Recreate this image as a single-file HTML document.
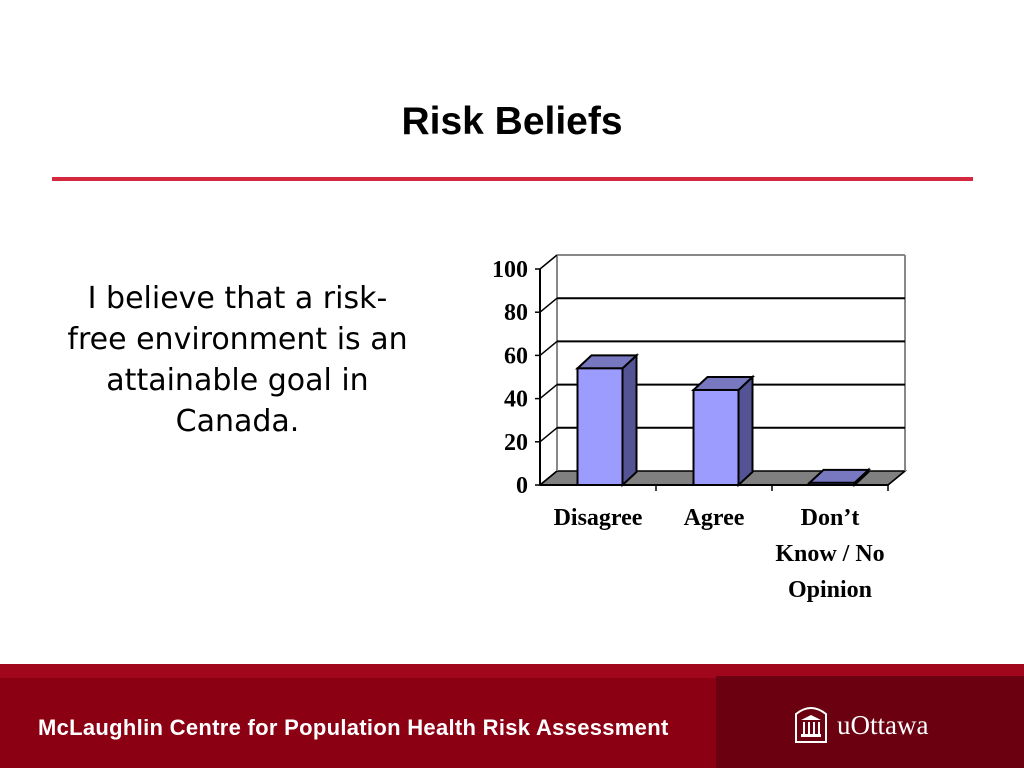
<!DOCTYPE html>
<html><head><meta charset="utf-8"><style>
body{margin:0;width:1024px;height:768px;overflow:hidden;background:#fff;font-family:"Liberation Sans",sans-serif;position:relative}
.abs{position:absolute}
</style></head><body>
<div class="abs" style="left:0;width:1024px;top:100px;text-align:center;font-weight:bold;font-size:39px;color:#000">Risk Beliefs</div>
<div class="abs" style="left:52px;top:177px;width:921px;height:4px;background:#d3283e"></div>
<div class="abs" style="left:20px;top:278px;width:435px;text-align:center;font-family:'Comic Sans MS','DejaVu Sans',sans-serif;font-size:30px;line-height:41px;color:#000">I believe that a risk-<br>free environment is an<br>attainable goal in<br>Canada.</div>
<svg class="abs" style="left:0;top:0" width="1024" height="768">
<g id="chart"></g>
</svg>
<div class="abs" style="left:0;top:664px;width:1024px;height:104px;background:#8c0014"></div>
<div class="abs" style="left:0;top:664px;width:1024px;height:14px;background:#a0061c"></div>
<div class="abs" style="left:716px;top:676px;width:308px;height:92px;background:#6b0010"></div>
<div class="abs" style="left:38px;top:715px;color:#fff;font-weight:bold;font-size:22px;letter-spacing:0.3px">McLaughlin Centre for Population Health Risk Assessment</div>
<div class="abs" style="left:793px;top:704px;width:160px;height:40px;color:#fff">
<svg width="36" height="40" class="abs" style="left:0;top:0"><path d="M3 38V10Q18 -2 33 10V38Z" fill="none" stroke="#fff" stroke-width="2"/><path d="M8 16L18 11L28 16Z" fill="#fff"/><rect x="8" y="30" width="20" height="3" fill="#fff"/><rect x="10" y="18" width="2" height="12" fill="#fff"/><rect x="15" y="18" width="2" height="12" fill="#fff"/><rect x="20" y="18" width="2" height="12" fill="#fff"/><rect x="25" y="18" width="2" height="12" fill="#fff"/></svg>
<span class="abs" style="left:44px;top:6px;font-family:'Liberation Serif',serif;font-size:27px">uOttawa</span></div>
<script>
const categories=["Disagree","Agree","Don’t\nKnow / No\nOpinion"];
const values=[54,44,1];
const yTicks=[0,20,40,60,80,100];
const NS="http://www.w3.org/2000/svg";
const g=document.getElementById('chart');
const X0=540,X1=888,Y0=485,PXU=2.16,DX=17,DY=-14;
const y=v=>Y0-v*PXU;
const band=(X1-X0)/categories.length;
function mk(t,a,p){const e=document.createElementNS(NS,t);for(const k in a)e.setAttribute(k,a[k]);(p||g).appendChild(e);return e;}
mk('polygon',{points:`${X0},${Y0} ${X0+DX},${Y0+DY} ${X1+DX},${Y0+DY} ${X1},${Y0}`,fill:'#808080',stroke:'#000','stroke-width':1.5});
mk('line',{x1:X0+DX,y1:y(100)+DY,x2:X0+DX,y2:Y0+DY,stroke:'#888','stroke-width':2});
mk('line',{x1:X1+DX,y1:y(100)+DY,x2:X1+DX,y2:Y0+DY,stroke:'#888','stroke-width':2});
mk('line',{x1:X0+DX,y1:y(100)+DY,x2:X1+DX,y2:y(100)+DY,stroke:'#888','stroke-width':2});
yTicks.forEach(t=>{
 if(t>0&&t<100){const l=mk('line',{x1:X0+DX,y1:y(t)+DY,x2:X1+DX,y2:y(t)+DY,stroke:'#000','stroke-width':2});}
 mk('line',{x1:X0,y1:y(t),x2:X0+DX,y2:y(t)+DY,stroke:'#000','stroke-width':1.5});
 mk('line',{x1:X0-5,y1:y(t),x2:X0,y2:y(t),stroke:'#000','stroke-width':1.5});
 const tx=mk('text',{x:X0-12,y:y(t)+8,'text-anchor':'end','font-family':'Liberation Serif','font-weight':'bold','font-size':24});
 tx.textContent=t;
 
 
});
mk('line',{x1:X0,y1:y(100),x2:X0,y2:Y0,stroke:'#000','stroke-width':2});
mk('line',{x1:X0,y1:Y0,x2:X1,y2:Y0,stroke:'#000','stroke-width':2});
mk('line',{x1:X1,y1:Y0,x2:X1+DX,y2:Y0+DY,stroke:'#000','stroke-width':1.5});
const BW=45,BD=14,BDY=-13;
categories.forEach((c,i)=>{
 mk('line',{x1:X0+band*(i+1),y1:Y0,x2:X0+band*(i+1),y2:Y0+6,stroke:'#000','stroke-width':1.5});
 const bx=X0+band*i+(band-BW)/2+2,top=y(values[i]);
 const bg=mk('g',{});
 
 
 mk('polygon',{points:`${bx+BW},${top} ${bx+BW+BD},${top+BDY} ${bx+BW+BD},${Y0+BDY} ${bx+BW},${Y0}`,fill:'#545494',stroke:'#000','stroke-width':2},bg);
 mk('polygon',{points:`${bx},${top} ${bx+BD},${top+BDY} ${bx+BW+BD},${top+BDY} ${bx+BW},${top}`,fill:'#7878c0',stroke:'#000','stroke-width':2},bg);
 mk('rect',{x:bx,y:top,width:BW,height:Y0-top,fill:'#9c9cff',stroke:'#000','stroke-width':2},bg);
 const lines=c.split('\n');
 lines.forEach((ln,j)=>{const t=mk('text',{x:X0+band*i+band/2,y:525+j*36,'text-anchor':'middle','font-family':'Liberation Serif','font-weight':'bold','font-size':24});t.textContent=ln;});
});
</script>
</body></html>
